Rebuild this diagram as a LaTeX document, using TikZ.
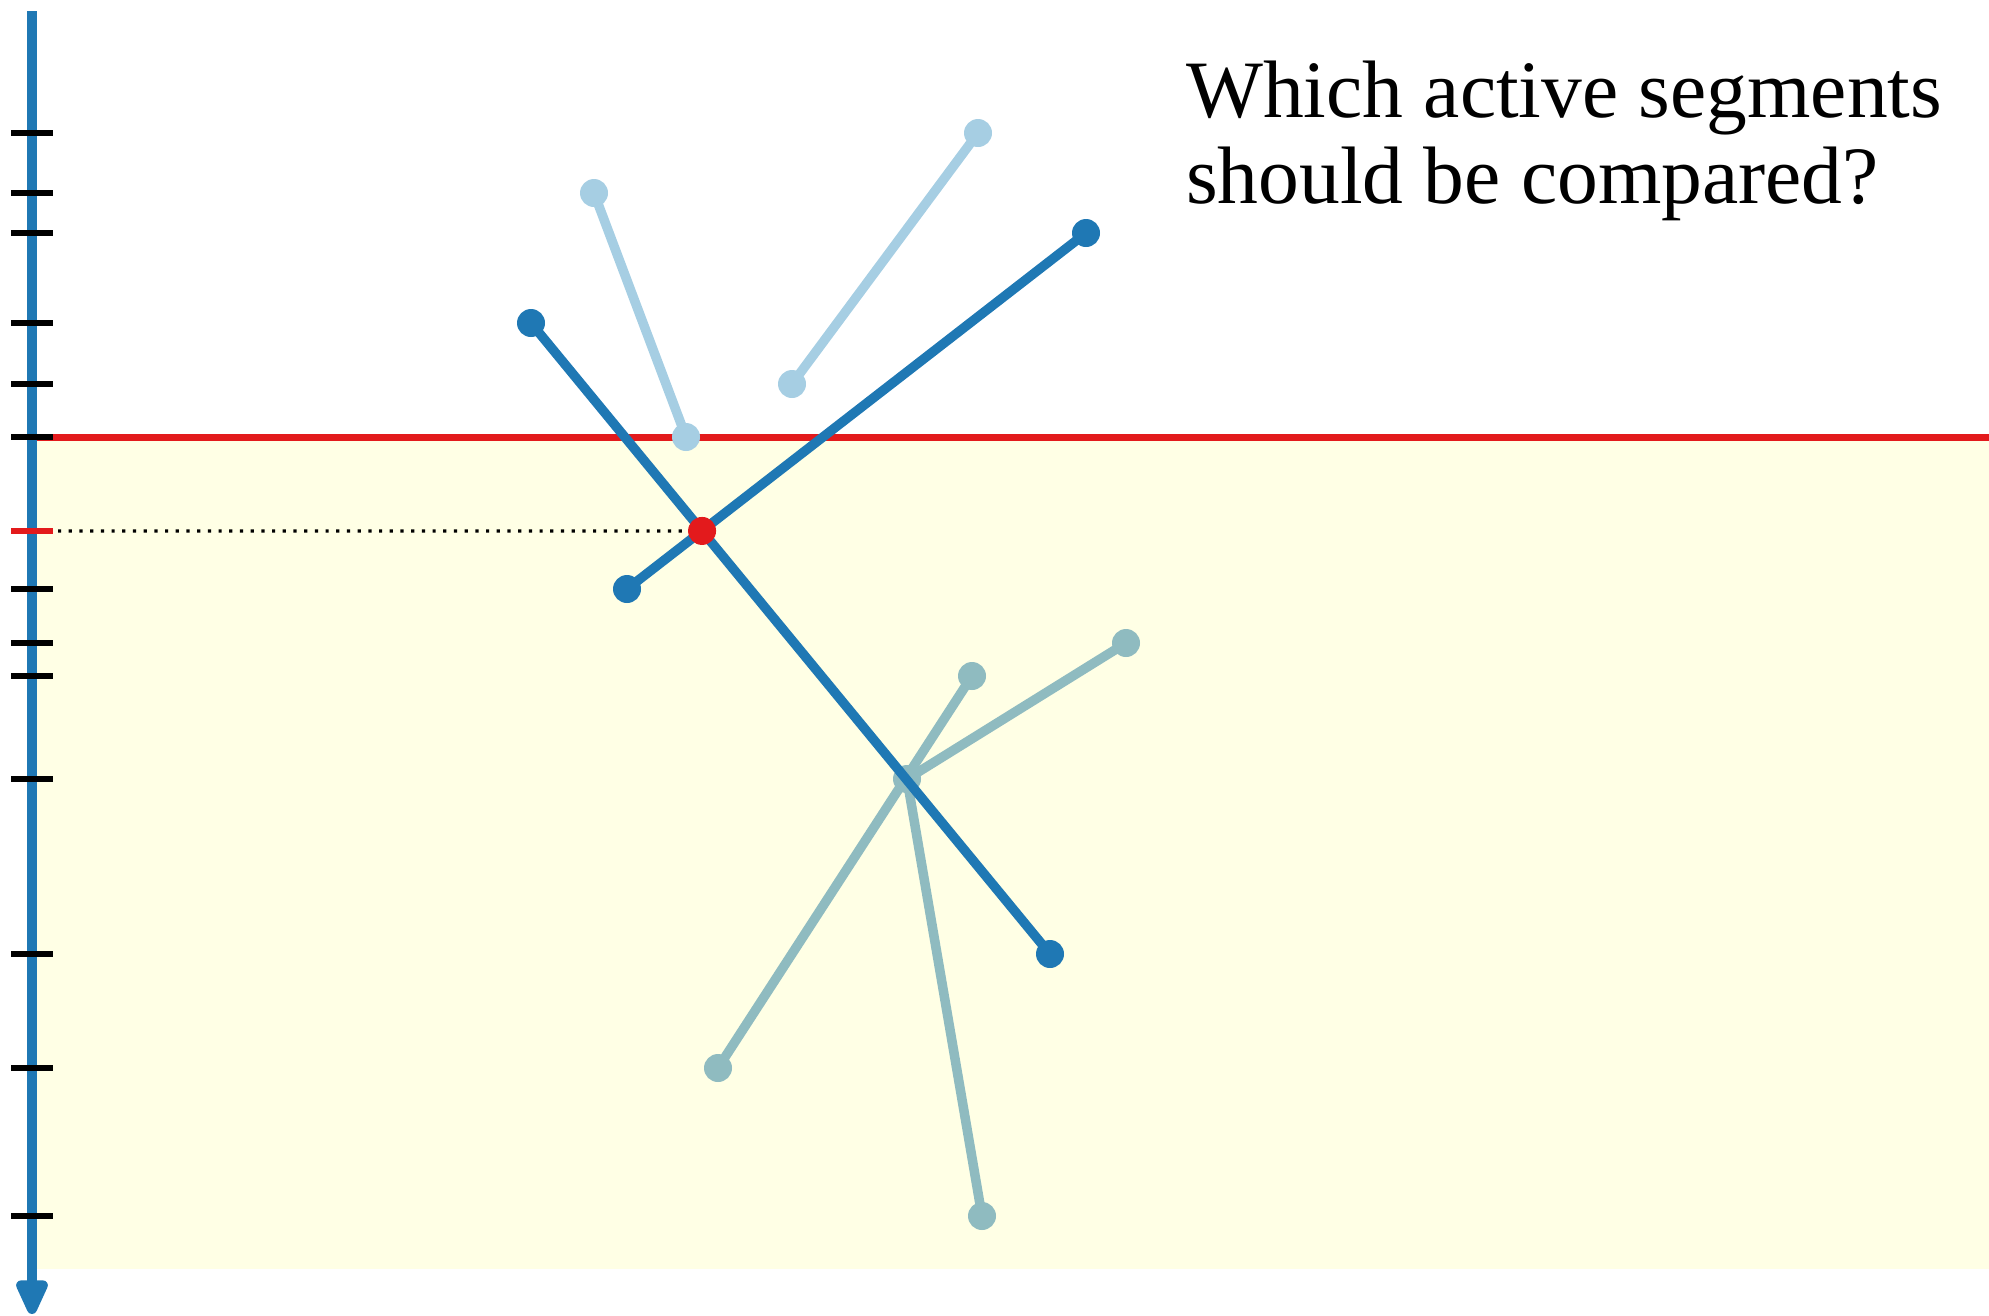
\documentclass[tikz,border=0pt]{standalone}
\usepackage{fontspec}
\setmainfont{Liberation Serif}
\usetikzlibrary{arrows.meta}
\definecolor{dblue}{HTML}{1F78B4}
\definecolor{lblue}{HTML}{A6CEE3}
\definecolor{cteal}{HTML}{8FBBC0}
\definecolor{cred}{HTML}{E31A1C}
\definecolor{cyellow}{HTML}{FFFFE5}
\begin{document}
\begin{tikzpicture}[x=1pt,y=-1pt,
  seg/.style={line width=9.5pt, line cap=round},
  dot/.style={circle, inner sep=0pt, minimum size=28pt},
  tickmark/.style={line width=6pt},
  lbl/.style={anchor=base west, inner sep=0pt, font=\fontsize{81.5}{86}\selectfont}
]
\useasboundingbox (0,0) rectangle (1989,1315);
% sweep region
\fill[cyellow] (32,437) rectangle (1989,1269);
% sweep line
\coordinate (rl) at (32,437);
\coordinate (rr) at (1989,437);
\draw[cred, line width=7pt] (rl) -- (rr);
% axis
\coordinate (ax0) at (32,11);
\coordinate (ax1) at (32,1314);
\draw[dblue, line width=10pt, -{Triangle[width=34pt,length=42pt,round]}] (ax0) -- (ax1);
\foreach \y in {133,193,233,323,384,437,589,643,676,779,954,1068,1216}
  \draw[tickmark, black] (11,\y) -- (53,\y);
\draw[tickmark, cred] (11,531) -- (53,531);
% endpoints
\coordinate (a1) at (531,323);  \coordinate (a2) at (1050,954);
\coordinate (b1) at (1086,233); \coordinate (b2) at (627,589);
\coordinate (c1) at (594,193);  \coordinate (c2) at (686,437);
\coordinate (d1) at (978,133);  \coordinate (d2) at (792,384);
\coordinate (e1) at (972,676);  \coordinate (e2) at (718,1068);
\coordinate (f1) at (1126,643); \coordinate (j)  at (907,779);
\coordinate (g2) at (982,1216);
\coordinate (x) at (intersection of a1--a2 and b1--b2);
\coordinate (dl) at (58,531);
% dotted projection
\draw[black, line width=3.2pt, dash pattern=on 3.2pt off 7.5pt] (dl) -- (x);
% teal segments
\draw[seg, cteal] (e1) -- (e2);
\draw[seg, cteal] (f1) -- (j);
\draw[seg, cteal] (j) -- (g2);
\foreach \p in {e1,e2,f1,j,g2} \node[dot, fill=cteal] (n\p) at (\p) {};
% light blue segments
\draw[seg, lblue] (c1) -- (c2);
\draw[seg, lblue] (d1) -- (d2);
\foreach \p in {c1,c2,d1,d2} \node[dot, fill=lblue] (n\p) at (\p) {};
% dark blue segments
\draw[seg, dblue] (a1) -- (a2);
\draw[seg, dblue] (b1) -- (b2);
\foreach \p in {a1,a2,b1,b2} \node[dot, fill=dblue] (n\p) at (\p) {};
% intersection
\node[dot, fill=cred] (nx) at (x) {};
% question
\node[lbl] (t1) at (1186,117) {Which active segments};
\node[lbl] (t2) at (1186,203) {should be compared?};
\end{tikzpicture}
\end{document}
